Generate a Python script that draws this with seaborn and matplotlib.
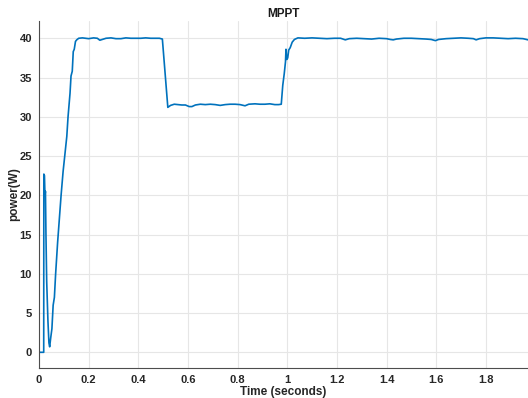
import matplotlib
matplotlib.use("Agg")
import matplotlib.pyplot as plt
import seaborn as sns
import pandas as pd

time_s = [0, 0.019, 0.0195, 0.022, 0.024, 0.026, 0.028, 0.031, 0.036, 0.040, 0.043, 0.047,
          0.052, 0.057, 0.062, 0.067, 0.075, 0.082, 0.089, 0.097, 0.107, 0.112, 0.117, 0.121,
          0.125, 0.129, 0.134, 0.138, 0.142, 0.147, 0.152, 0.160, 0.175, 0.20, 0.22, 0.235,
          0.245, 0.255, 0.27, 0.29, 0.31, 0.33, 0.35, 0.37, 0.39, 0.41, 0.43, 0.45, 0.47,
          0.485, 0.497, 0.519, 0.53, 0.545, 0.56, 0.575, 0.59, 0.605, 0.616, 0.63, 0.65,
          0.67, 0.69, 0.71, 0.73, 0.75, 0.77, 0.79, 0.81, 0.83, 0.845, 0.87, 0.89, 0.91,
          0.93, 0.95, 0.965, 0.976, 0.982, 0.988, 0.993, 0.995, 0.998, 1.002, 1.006, 1.012,
          1.02, 1.029, 1.043, 1.07, 1.10, 1.13, 1.16, 1.19, 1.215, 1.234, 1.25, 1.28, 1.31,
          1.34, 1.37, 1.40, 1.415, 1.427, 1.44, 1.47, 1.50, 1.53, 1.56, 1.58, 1.597, 1.61,
          1.64, 1.67, 1.70, 1.73, 1.75, 1.761, 1.775, 1.80, 1.83, 1.86, 1.89, 1.92, 1.95, 1.97]
power_w = [0, 0, 22.7, 22.5, 20, 20.5, 15, 9, 4, 1.2, 0.7, 1.8,
           3, 6, 7, 10, 14, 17, 20, 23, 26, 27.5, 30, 31.5,
           33, 35.2, 35.8, 38.3, 38.6, 39.6, 39.8, 40.0, 40.05, 39.95, 40.05, 40.0,
           39.75, 39.85, 40.0, 40.05, 39.95, 39.95, 40.05, 40.0, 40.0, 40.0, 40.05, 40.0, 40.0,
           40.0, 39.9, 31.2, 31.45, 31.6, 31.55, 31.5, 31.5, 31.3, 31.3, 31.5, 31.6,
           31.55, 31.6, 31.55, 31.45, 31.55, 31.6, 31.6, 31.55, 31.4, 31.6, 31.65, 31.6, 31.6,
           31.65, 31.55, 31.55, 31.6, 34, 35.5, 37, 38.6, 37.3, 37.5, 38.5, 38.8,
           39.5, 39.85, 40.05, 40.0, 40.05, 40.0, 39.95, 40.0, 40.0, 39.8, 39.95, 40.0, 39.95,
           39.9, 40.0, 39.95, 39.85, 39.8, 39.9, 40.0, 40.0, 39.95, 39.9, 39.85, 39.7, 39.85,
           39.95, 40.0, 40.05, 40.0, 39.95, 39.8, 39.95, 40.05, 40.05, 40.0, 39.95, 40.0, 39.95, 39.8]

x_ticks = [0, 0.2, 0.4, 0.6, 0.8, 1.0, 1.2, 1.4, 1.6, 1.8]
x_tick_labels = ["0", "0.2", "0.4", "0.6", "0.8", "1", "1.2", "1.4", "1.6", "1.8"]
y_ticks = [0, 5, 10, 15, 20, 25, 30, 35, 40]

df = pd.DataFrame({"t": time_s, "p": power_w})

sns.set_style("white")
plt.rcParams["font.family"] = ["Liberation Sans", "DejaVu Sans"]

fig = plt.figure(figsize=(5.28, 3.98), dpi=100)
ax = fig.add_axes([39 / 528, 30 / 398, 1 - 39 / 528, (368 - 21) / 398])

sns.lineplot(data=df, x="t", y="p", ax=ax, color="#0072BD", linewidth=1.2,
             estimator=None, sort=False)

ax.set_xlim(0, 1.97)
ax.set_ylim(-2, 42.2)
ax.set_xticks(x_ticks)
ax.set_xticklabels(x_tick_labels)
ax.set_yticks(y_ticks)
ax.grid(True, color="#e6e6e6", linewidth=0.8)
ax.set_axisbelow(True)

for side in ["top", "right"]:
    ax.spines[side].set_visible(False)
for side in ["left", "bottom"]:
    ax.spines[side].set_color("#4d4d4d")
    ax.spines[side].set_linewidth(0.8)

ax.tick_params(axis="both", direction="in", length=3, width=0.8, color="#4d4d4d",
               labelsize=8, labelcolor="#262626", pad=5)
for lbl in ax.get_xticklabels() + ax.get_yticklabels():
    lbl.set_fontweight("bold")

ax.set_xlabel("Time (seconds)", fontsize=8.5, fontweight="bold", color="#262626")
ax.xaxis.set_label_coords(0.5, -0.053)
ax.set_ylabel("power(W)", fontsize=8.5, fontweight="bold", color="#262626")
ax.yaxis.set_label_coords(-0.039, 0.5)
ax.set_title("MPPT", fontsize=8.5, fontweight="bold", color="#1a1a1a", pad=3)

fig.savefig("out.png", dpi=100)
